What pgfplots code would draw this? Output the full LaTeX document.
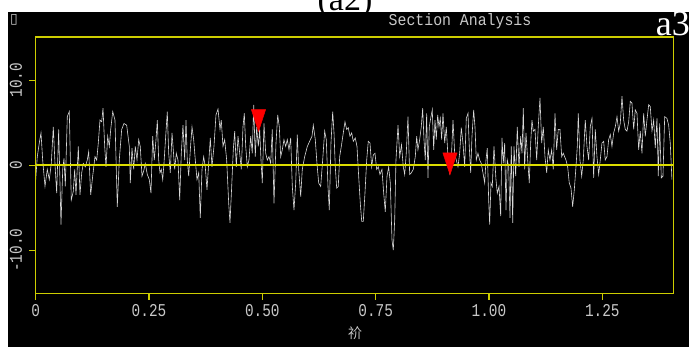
\documentclass[border=0pt]{standalone}
\usepackage{fontspec}
\usepackage{pgfplots}
\pgfplotsset{compat=1.18}
\setmainfont{Liberation Serif}
\newfontfamily\monofont[FakeStretch=0.8]{Liberation Mono}
\newfontfamily\titlefont[FakeStretch=0.9]{Liberation Mono}
\newfontfamily\cjk{Noto Sans CJK SC}
\newfontfamily\djv{DejaVu Sans}
\definecolor{boxyellow}{RGB}{205,205,0}
\definecolor{zeroyellow}{RGB}{220,220,0}
\definecolor{curvegray}{RGB}{215,215,215}
\definecolor{txtgray}{RGB}{200,200,200}
\begin{document}
\begin{tikzpicture}
\useasboundingbox (0pt,0pt) rectangle (689pt,347pt);
\fill[white] (0pt,0pt) rectangle (689pt,347pt);
\node[anchor=base, font=\fontsize{34}{34}\selectfont, inner sep=0pt] at (345pt,336pt) {(a2)};
\fill[black] (8pt,0pt) rectangle (689pt,335pt);
\begin{axis}[
  at={(35.7pt,53.7pt)}, anchor=south west,
  scale only axis, width=638pt, height=256.3pt,
  xmin=0, xmax=1.4075, ymin=-15.07, ymax=15.07,
  axis line style={draw=none},
  tick style={draw=boxyellow, line width=1.2pt},
  tick align=outside, major tick length=6.5pt,
  xtick pos=bottom, ytick pos=left,
  xtick={0,0.25,0.5,0.75,1.0,1.25},
  xticklabels={0,0.25,0.50,0.75,1.00,1.25},
  ytick={-10,0,10},
  yticklabels={-10.0,0,10.0},
  xticklabel style={font=\monofont\fontsize{18}{18}\selectfont, text=txtgray, anchor=north, inner sep=1pt, yshift=-3pt},
  yticklabel style={font=\monofont\fontsize{18}{18}\selectfont, text=txtgray, rotate=90, anchor=south, inner sep=1pt, yshift=6pt},
  clip=false,
]
\addplot[curvegray, line width=0.6pt] table {
0.0000 -1.7
0.0035 1.0
0.0079 2.6
0.0117 3.8
0.0154 0.6
0.0205 -2.5
0.0256 -0.5
0.0300 -1.7
0.0344 0.2
0.0388 4.5
0.0432 -0.5
0.0463 -3.3
0.0507 4.2
0.0558 -7.0
0.0596 -0.5
0.0624 0.8
0.0653 -2.5
0.0697 5.7
0.0741 6.3
0.0785 -4.1
0.0829 -3.1
0.0860 -0.5
0.0889 -3.5
0.0940 2.2
0.0977 -3.5
0.1015 -0.9
0.1050 0.2
0.1094 -0.2
0.1138 0.6
0.1169 1.6
0.1213 -3.5
0.1257 -1.3
0.1308 1.0
0.1346 0.6
0.1381 2.6
0.1418 5.3
0.1456 5.1
0.1485 6.7
0.1522 2.2
0.1551 -0.2
0.1588 3.4
0.1624 2.2
0.1655 4.2
0.1699 6.3
0.1749 5.3
0.1800 -4.9
0.1844 0.6
0.1897 4.2
0.1948 4.9
0.2007 4.7
0.2065 2.2
0.2087 -2.1
0.2124 2.0
0.2162 -0.5
0.2197 2.2
0.2235 0.6
0.2272 3.0
0.2307 2.2
0.2345 -1.3
0.2382 -0.7
0.2418 0.2
0.2462 -1.1
0.2506 -1.7
0.2543 -3.3
0.2581 3.4
0.2616 0.6
0.2654 3.0
0.2683 5.3
0.2713 0.6
0.2742 -0.9
0.2771 -0.5
0.2802 -1.7
0.2830 0.2
0.2868 3.4
0.2903 6.3
0.2934 1.4
0.2969 -0.9
0.3007 3.8
0.3035 1.8
0.3066 -0.5
0.3102 1.4
0.3139 0.6
0.3177 -4.1
0.3212 1.4
0.3249 4.7
0.3287 0.6
0.3316 5.3
0.3344 0.6
0.3375 -1.3
0.3411 1.8
0.3448 4.5
0.3485 3.0
0.3521 0.6
0.3558 -1.7
0.3596 -0.9
0.3631 -6.2
0.3669 -0.5
0.3706 1.0
0.3741 -0.2
0.3779 -2.9
0.3816 0.2
0.3852 3.2
0.3889 -0.2
0.3933 2.2
0.3977 5.9
0.4022 6.6
0.4066 4.2
0.4094 5.3
0.4132 2.2
0.4169 3.0
0.4213 0.6
0.4258 -4.5
0.4286 -6.8
0.4324 -2.5
0.4359 1.8
0.4390 4.0
0.4425 -0.2
0.4463 3.4
0.4500 1.4
0.4536 -0.5
0.4573 4.5
0.4602 6.1
0.4633 2.2
0.4668 -0.2
0.4705 0.6
0.4743 3.4
0.4778 1.4
0.4809 7.1
0.4844 1.0
0.4875 4.5
0.4911 2.2
0.4941 4.2
0.4970 0.6
0.4999 -2.1
0.5036 4.9
0.5074 1.4
0.5109 0.6
0.5147 1.0
0.5184 0.2
0.5219 4.2
0.5257 -4.5
0.5301 2.6
0.5339 5.9
0.5374 4.5
0.5405 1.0
0.5440 1.8
0.5477 3.0
0.5515 2.2
0.5550 3.0
0.5588 1.8
0.5625 3.2
0.5661 -2.5
0.5698 -5.3
0.5736 -2.1
0.5771 3.6
0.5802 -0.5
0.5846 -3.7
0.5881 -0.5
0.5934 1.0
0.5992 2.2
0.6095 3.4
0.6124 4.7
0.6168 3.0
0.6205 0.2
0.6243 -2.1
0.6287 -2.5
0.6331 0.6
0.6375 4.0
0.6411 3.0
0.6448 -2.5
0.6477 -5.3
0.6514 2.6
0.6552 6.3
0.6581 3.8
0.6609 -0.2
0.6640 -2.7
0.6675 -2.5
0.6706 1.0
0.6742 2.2
0.6786 3.8
0.6823 5.1
0.6861 4.2
0.6896 4.4
0.6933 3.4
0.6971 3.8
0.7006 2.8
0.7050 3.2
0.7088 2.2
0.7125 -1.3
0.7161 -4.5
0.7192 -6.6
0.7227 -6.6
0.7264 -3.3
0.7302 0.6
0.7337 2.8
0.7375 2.6
0.7412 -0.2
0.7448 1.2
0.7485 1.4
0.7522 -0.5
0.7558 -0.2
0.7595 -1.1
0.7639 -0.5
0.7677 -3.3
0.7712 -5.5
0.7750 -1.3
0.7787 -0.2
0.7823 -2.1
0.7860 -8.8
0.7889 -10.0
0.7920 -6.4
0.7948 0.6
0.7993 4.7
0.8031 1.0
0.8070 2.4
0.8109 -0.2
0.8140 -1.1
0.8175 1.4
0.8213 5.7
0.8250 -1.1
0.8286 -0.9
0.8330 -0.5
0.8374 1.0
0.8405 3.4
0.8433 1.8
0.8471 3.0
0.8506 4.5
0.8537 6.7
0.8566 3.0
0.8595 0.6
0.8625 6.1
0.8654 -1.5
0.8683 4.5
0.8720 5.7
0.8749 6.5
0.8780 1.8
0.8809 5.3
0.8837 3.0
0.8868 5.9
0.8897 4.5
0.8926 5.5
0.8956 3.0
0.8985 6.1
0.9023 2.6
0.9058 4.5
0.9095 1.0
0.9133 -0.9
0.9168 0.6
0.9206 5.3
0.9243 1.4
0.9278 0.6
0.9316 -0.2
0.9353 1.4
0.9389 4.4
0.9426 2.6
0.9464 -0.2
0.9499 5.5
0.9537 6.1
0.9565 2.2
0.9596 -0.9
0.9625 3.4
0.9662 6.5
0.9691 4.5
0.9720 0.6
0.9757 1.4
0.9795 0.6
0.9830 0.2
0.9867 -0.9
0.9905 -2.1
0.9934 0.6
0.9962 2.0
0.9993 -4.1
1.0015 -7.0
1.0044 -2.1
1.0073 -2.5
1.0110 2.2
1.0154 -1.7
1.0183 -3.3
1.0221 -2.5
1.0258 -6.0
1.0287 3.2
1.0315 0.2
1.0346 2.6
1.0375 -5.3
1.0404 0.6
1.0435 -0.2
1.0463 -6.2
1.0492 2.2
1.0523 -6.8
1.0551 2.2
1.0589 -1.3
1.0624 4.5
1.0662 -0.2
1.0699 3.4
1.0728 1.4
1.0757 6.7
1.0787 -0.5
1.0816 3.8
1.0854 0.6
1.0889 -2.1
1.0920 2.6
1.0948 5.3
1.0977 4.0
1.1015 4.2
1.1052 0.6
1.1087 4.5
1.1125 7.9
1.1162 2.6
1.1198 4.5
1.1235 1.0
1.1273 -0.9
1.1308 1.8
1.1345 0.6
1.1383 1.8
1.1418 -0.5
1.1456 6.1
1.1493 1.8
1.1528 4.2
1.1566 4.2
1.1604 1.0
1.1639 1.4
1.1698 0.6
1.1736 -0.2
1.1771 -2.1
1.1809 -2.7
1.1846 -4.9
1.1882 -2.9
1.1919 -0.2
1.1948 2.2
1.1970 6.1
1.2007 0.6
1.2045 -1.3
1.2080 0.6
1.2124 5.3
1.2162 2.2
1.2199 0.6
1.2234 4.5
1.2272 5.5
1.2309 -1.5
1.2345 4.2
1.2382 1.0
1.2420 -1.1
1.2455 0.6
1.2492 2.6
1.2530 2.8
1.2565 0.6
1.2603 1.0
1.2640 3.0
1.2676 3.6
1.2713 2.2
1.2751 3.8
1.2786 4.5
1.2824 5.7
1.2861 4.0
1.2896 4.9
1.2934 8.1
1.2971 5.3
1.3007 4.2
1.3044 4.0
1.3082 5.1
1.3117 7.5
1.3154 7.3
1.3192 4.2
1.3227 6.5
1.3265 6.1
1.3302 1.8
1.3337 4.0
1.3375 1.4
1.3412 6.1
1.3448 3.4
1.3485 5.3
1.3523 7.1
1.3558 6.9
1.3596 4.0
1.3633 5.3
1.3668 2.0
1.3706 5.5
1.3735 -1.3
1.3765 4.9
1.3801 -1.5
1.3838 -1.3
1.3876 5.7
1.3926 5.5
1.3964 4.7
1.3999 2.6
1.4036 -1.7
};
\addplot[draw=zeroyellow, line width=1.3pt] coordinates {(0,0) (1.4075,0)};
\draw[boxyellow, line width=1.5pt] (rel axis cs:0,0) rectangle (rel axis cs:1,1);
\addplot[only marks, mark=triangle*, mark size=8.3pt, color=red,
  mark options={yscale=-1.77, fill=red, draw=red}] coordinates {(0.4915,5.68) (0.914,0.59)};
\end{axis}
\node[font=\djv\fontsize{14}{14}\selectfont, text=txtgray, inner sep=0pt] at (14pt,327pt) {▯};
\node[font=\titlefont\fontsize{16.5}{16.5}\selectfont, text=txtgray, inner sep=0pt] at (460pt,326pt) {Section Analysis};
\node[anchor=base east, font=\fontsize{36}{36}\selectfont, text=white, inner sep=0pt] at (690pt,311pt) {a3};
\node[font=\cjk\fontsize{14}{14}\selectfont, text=txtgray, inner sep=0pt] at (355pt,14pt) {祄};
\end{tikzpicture}
\end{document}
